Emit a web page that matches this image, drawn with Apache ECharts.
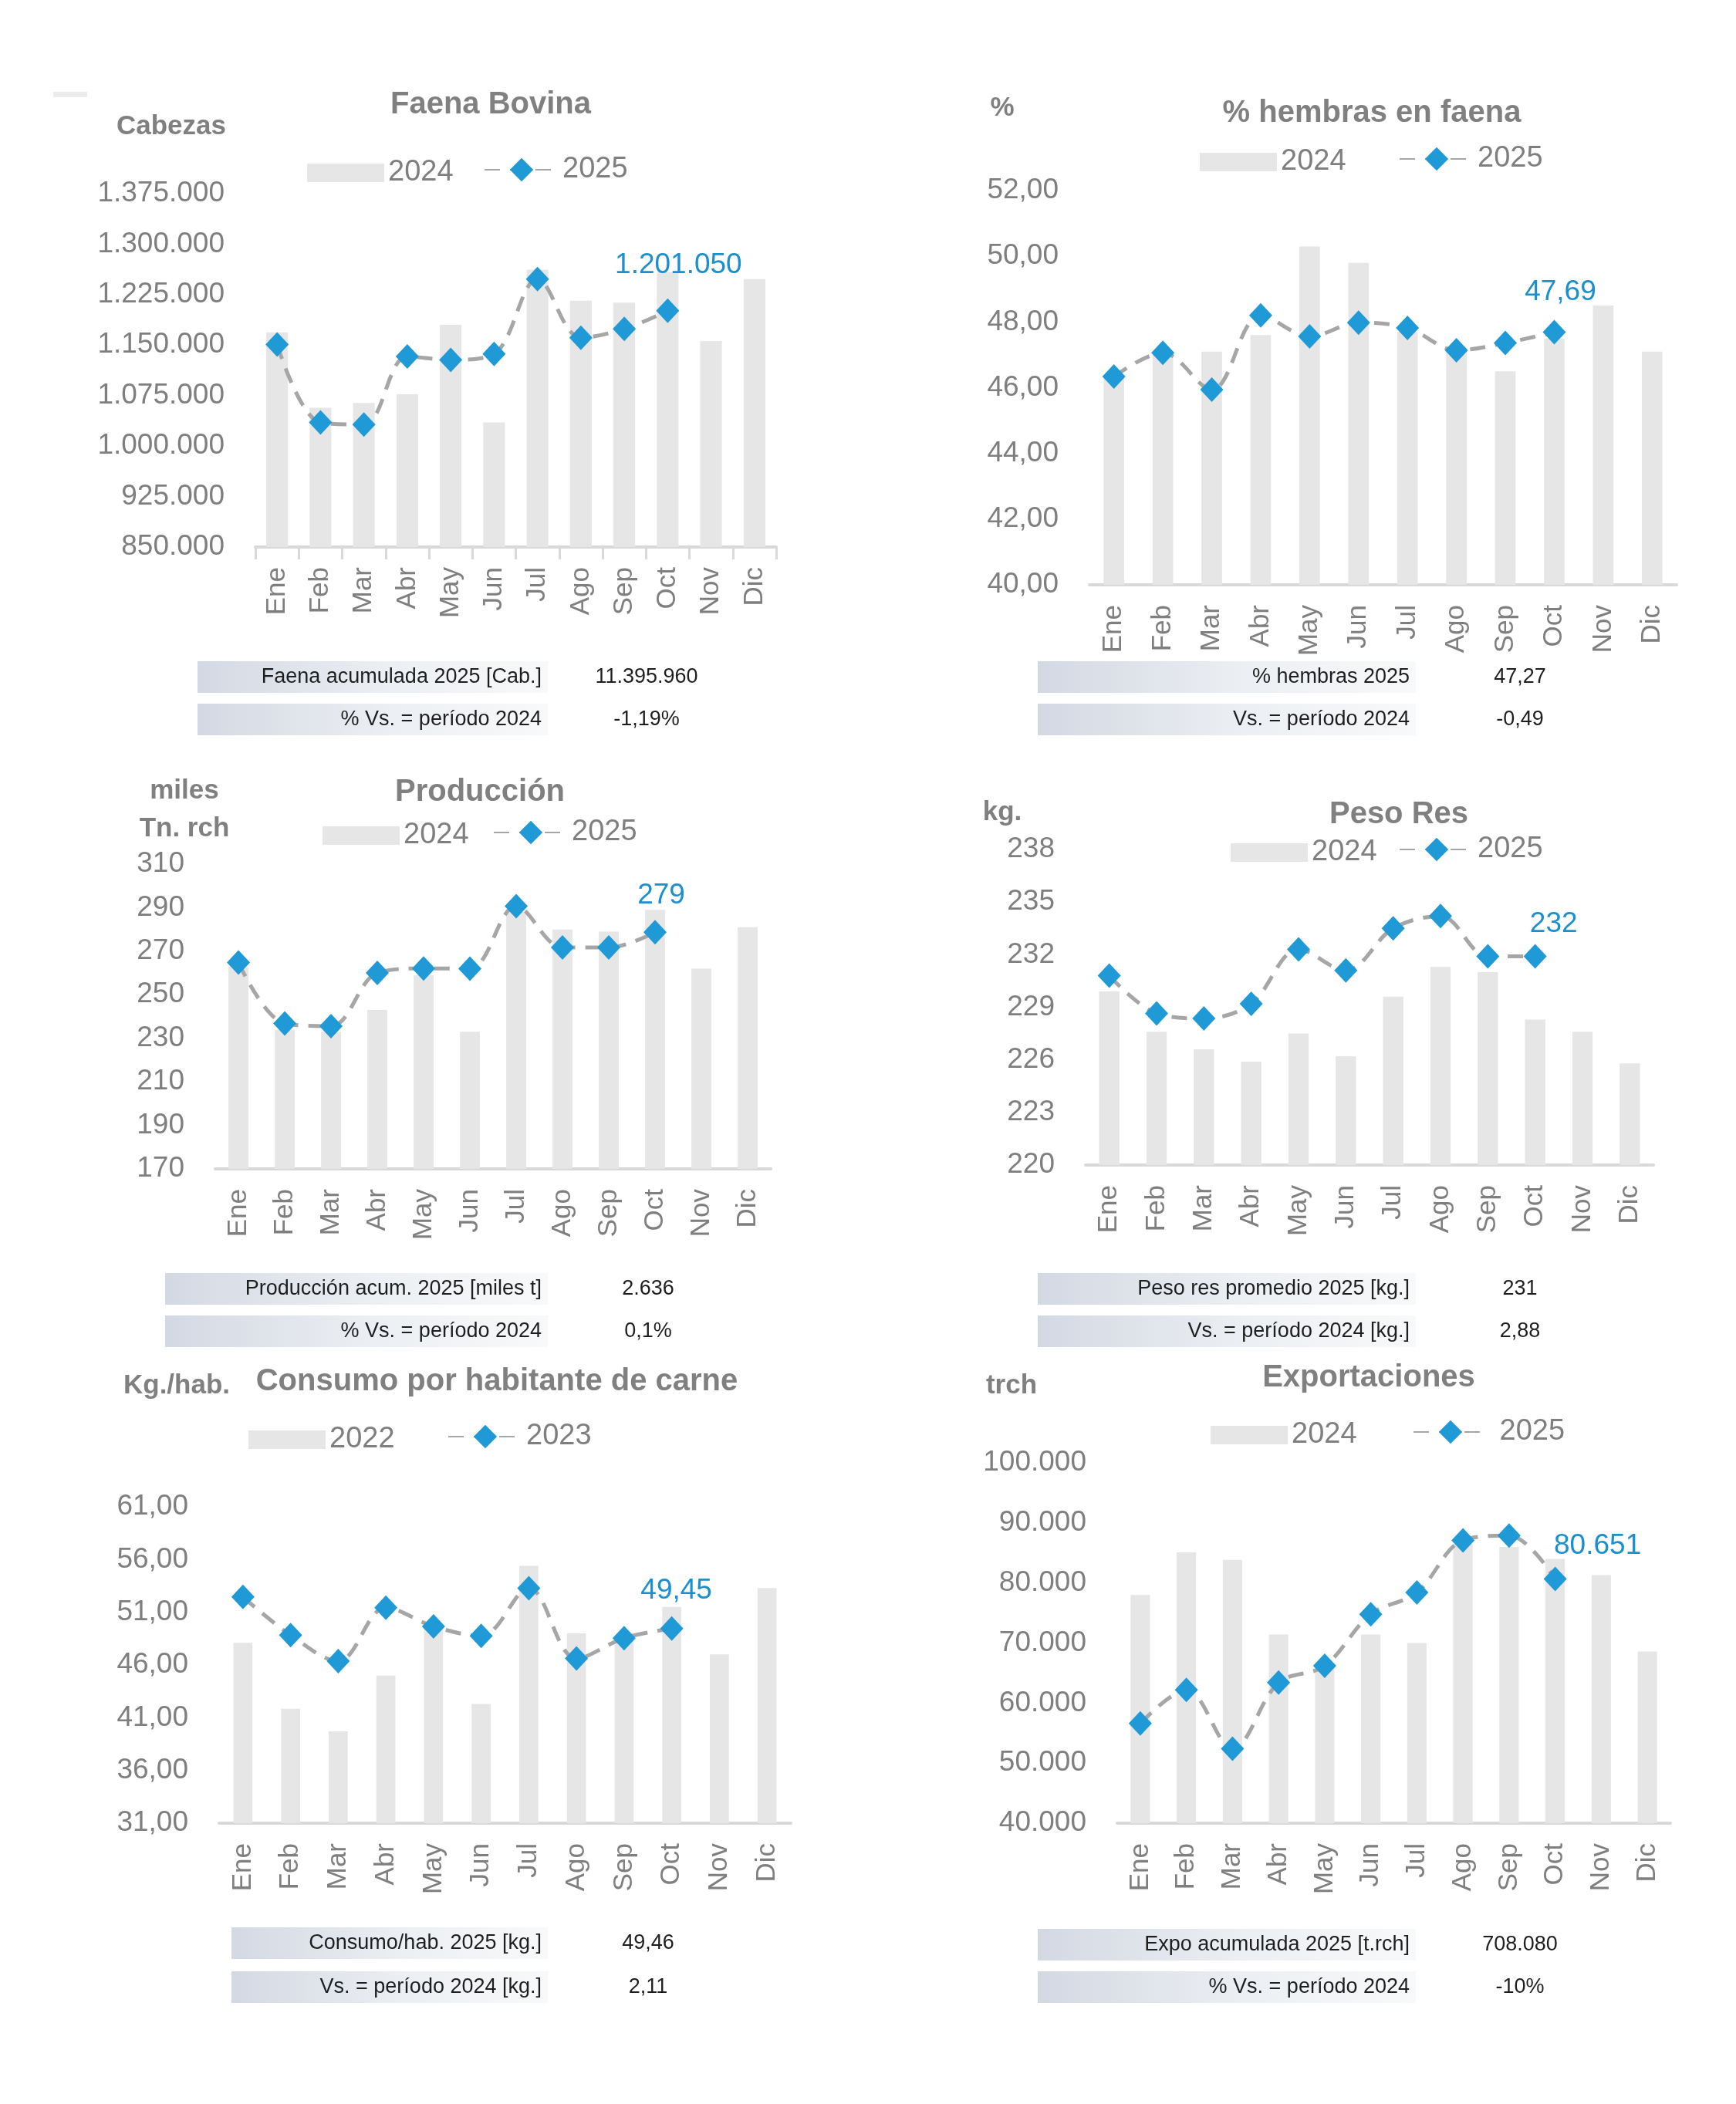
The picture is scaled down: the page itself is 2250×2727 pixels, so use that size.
<!DOCTYPE html>
<html><head><meta charset="utf-8">
<script src="https://cdn.jsdelivr.net/npm/echarts@6/dist/echarts.min.js"></script>
<style>html,body{margin:0;padding:0;background:#fff}#c{width:2250px;height:2727px}</style>
</head><body><div id="c"></div>
<script>
// ---------- DATA ----------
const months = ['Ene','Feb','Mar','Abr','May','Jun','Jul','Ago','Sep','Oct','Nov','Dic'];

const faena2024 = [1169000, 1057000, 1064000, 1077000, 1180000, 1035000, 1262000, 1216000, 1213000, 1258000, 1156000, 1248000];
const faena2025 = [1151000, 1035000, 1032000, 1133000, 1128000, 1137000, 1248000, 1161000, 1174000, 1201050];
const faenaTicks = [850000, 925000, 1000000, 1075000, 1150000, 1225000, 1300000, 1375000];

const hembras2024 = [46.3, 47.0, 47.1, 47.6, 50.3, 49.8, 47.7, 47.1, 46.5, 47.5, 48.5, 47.1];
const hembras2025 = [46.34, 47.06, 45.94, 48.2, 47.56, 47.98, 47.82, 47.14, 47.36, 47.69];
const hembrasTicks = [40, 42, 44, 46, 48, 50, 52];

const prod2024 = [263, 234, 233, 243, 259, 233, 288, 280, 279, 289, 262, 281];
const prod2025 = [264.8, 236.8, 235.6, 260, 262.1, 262, 290.7, 271.7, 271.7, 278.7];
const prodTicks = [170, 190, 210, 230, 250, 270, 290, 310];

const peso2024 = [229.9, 227.6, 226.6, 225.9, 227.5, 226.2, 229.6, 231.3, 231.0, 228.3, 227.6, 225.8];
const peso2025 = [230.8, 228.65, 228.36, 229.2, 232.3, 231.1, 233.5, 234.2, 231.9, 231.9];
const pesoTicks = [220, 223, 226, 229, 232, 235, 238];

const consumo2022 = [48.1, 41.85, 39.7, 45.0, 49.7, 42.3, 55.4, 49.0, 48.5, 51.5, 47.0, 53.3];
const consumo2023 = [52.45, 48.84, 46.37, 51.43, 49.66, 48.76, 53.28, 46.62, 48.55, 49.45];
const consumoTicks = [31, 36, 41, 46, 51, 56, 61];

const expo2024 = [78000, 85100, 83850, 71400, 66500, 71400, 70000, 86500, 86000, 84000, 81300, 68600];
const expo2025 = [56600, 62200, 52400, 63400, 66200, 74800, 78400, 87100, 87900, 80651];
const expoTicks = [40000, 50000, 60000, 70000, 80000, 90000, 100000];

const tables = [
  [['Faena acumulada 2025 [Cab.]', '11.395.960'], ['% Vs. = período 2024', '-1,19%']],
  [['% hembras 2025', '47,27'], ['Vs. = período 2024', '-0,49']],
  [['Producción acum. 2025 [miles t]', '2.636'], ['% Vs. = período 2024', '0,1%']],
  [['Peso res promedio 2025 [kg.]', '231'], ['Vs. = período 2024 [kg.]', '2,88']],
  [['Consumo/hab. 2025 [kg.]', '49,46'], ['Vs. = período 2024 [kg.]', '2,11']],
  [['Expo acumulada 2025 [t.rch]', '708.080'], ['% Vs. = período 2024', '-10%']]
];

// ---------- FORMAT ----------
function fmtNum(v, dec) {
  const neg = v < 0; v = Math.abs(v);
  let s = v.toFixed(dec);
  let [ip, fp] = s.split('.');
  ip = ip.replace(/\B(?=(\d{3})+(?!\d))/g, '.');
  return (neg ? '-' : '') + ip + (fp ? ',' + fp : '');
}

// ---------- LAYOUT ----------
const X = x => Math.round(x * 1.007);
const Y = y => Math.round(y * 1.005 + 4);
function G(l, t, r, b) { return {left:X(l), top:Y(t), width:X(r) - X(l), height:Y(b) - Y(t)}; }

const GRAY = '#7f7f7f', BAR = '#e7e6e6', LINE = '#a6a6a6', BLUE = '#1f9ad6', LBL = '#1b8fd0';
const FONT = "'Liberation Sans', Arial, sans-serif";

const panels = [
  {grid:G(329,246,999,701), bars:faena2024, line:faena2025, ticks:faenaTicks, dec:0,
   names:['2024','2025'], ticksX:true, bw:'50%', lg:[395,623,215], lOff:[14,0], dist:24},
  {grid:G(1402,242,2158,750), bars:hembras2024, line:hembras2025, ticks:hembrasTicks, dec:2,
   names:['2024','2025'], ticksX:false, bw:'42%', lg:[1544,1800,201], lOff:[8,0], dist:17},
  {grid:G(277,1110,992,1503), bars:prod2024, line:prod2025, ticks:prodTicks, dec:0,
   names:['2024','2025'], ticksX:false, bw:'43%', lg:[415,635,1070], lOff:[8,0], dist:13},
  {grid:G(1397,1092,2128,1499), bars:peso2024, line:peso2025, ticks:pesoTicks, dec:0,
   names:['2024','2025'], ticksX:false, bw:'43%', lg:[1584,1800,1092], lOff:[24,0], dist:7},
  {grid:G(282,1939,1018,2347), bars:consumo2022, line:consumo2023, ticks:consumoTicks, dec:2,
   names:['2022','2023'], ticksX:false, bw:'40%', lg:[320,576,1849], lOff:[6,0], dist:15},
  {grid:G(1438,1883,2150,2347), bars:expo2024, line:expo2025, ticks:expoTicks, dec:0,
   names:['2024',' 2025'], ticksX:false, bw:'42%', lg:[1558,1818,1843], lOff:[55,8], dist:16}
];

const option = {
  backgroundColor: '#ffffff',
  animation: false,
  textStyle: {fontFamily: FONT},
  title: [
    ['Faena Bovina', 632, 131], ['% hembras en faena', 1766, 142], ['Producción', 618, 1018],
    ['Peso Res', 1800, 1047], ['Consumo por habitante de carne', 640, 1778], ['Exportaciones', 1762, 1773]
  ].map(t => ({text:t[0], left:X(t[1]), top:Y(t[2]), textAlign:'center', textVerticalAlign:'middle', padding:0,
     textStyle:{fontSize:40, fontWeight:'bold', color:'#808080', fontFamily:FONT}})),
  grid: [], xAxis: [], yAxis: [], series: [], legend: [], graphic: []
};

panels.forEach((p, i) => {
  option.grid.push(Object.assign({containLabel:false}, p.grid));
  option.xAxis.push({
    gridIndex:i, type:'category', data:months, boundaryGap:true,
    axisLine:{show:true, lineStyle:{color:'#d9d9d9', width:4}},
    axisTick:{show:p.ticksX, length:16, lineStyle:{color:'#d9d9d9', width:3}},
    axisLabel:{rotate:90, color:GRAY, fontSize:35, margin:26, fontFamily:FONT}
  });
  const tk = p.ticks;
  option.yAxis.push({
    gridIndex:i, type:'value', min:tk[0], max:tk[tk.length-1],
    axisLine:{show:false}, axisTick:{show:false}, splitLine:{show:false},
    axisLabel:{customValues:tk, color:GRAY, fontSize:37, margin:40, fontFamily:FONT,
      formatter: v => fmtNum(v, p.dec)}
  });
  option.series.push({
    name:p.names[0], type:'bar', xAxisIndex:i, yAxisIndex:i, data:p.bars, barWidth:p.bw,
    itemStyle:{color:BAR}, silent:true
  });
  const last = p.line.length - 1;
  option.series.push({
    name:p.names[1], type:'line', xAxisIndex:i, yAxisIndex:i, smooth:0.35,
    symbol:'diamond', symbolSize:[30,32], z:5,
    lineStyle:{color:LINE, width:5, type:[20,13]},
    itemStyle:{color:BLUE},
    data:p.line.map((v, k) => k === last ? {value:v, label:{show:true, position:'top', distance:p.dist, offset:p.lOff,
      color:LBL, fontSize:37, fontFamily:FONT, formatter: () => fmtNum(v, p.dec)}} : v)
  });
  // bar legend
  option.legend.push({
    left:X(p.lg[0]), top:Y(p.lg[2]) - 15, orient:'horizontal', itemWidth:100, itemHeight:24, padding:0, itemGap:8,
    data:[{name:p.names[0], icon:'rect'}],
    textStyle:{color:GRAY, fontSize:38, fontFamily:FONT}
  });
  // line legend
  option.legend.push({
    left:X(p.lg[1]), top:Y(p.lg[2]) - 19, orient:'horizontal', itemWidth:96, itemHeight:38, padding:0, itemGap:8,
    data:[{name:p.names[1]}],
    textStyle:{color:GRAY, fontSize:38, fontFamily:FONT}
  });
});

// units
[['Cabezas',220,159],['%',1290,135],['miles',237,1016],['Tn. rch',237,1065],['kg.',1290,1044],['Kg./hab.',227,1783],['trch',1302,1783]]
  .forEach(u => option.graphic.push({type:'text', x:X(u[1]), y:Y(u[2]), silent:true,
    style:{text:u[0], fill:'#808080', font:'bold 35px ' + FONT, textAlign:'center', textVerticalAlign:'middle'}}));

// small mark top-left
option.graphic.push({type:'rect', shape:{x:X(69), y:Y(114), width:44, height:7}, style:{fill:'#ececec'}, silent:true});

// tables
const tPos = [
  {x0:254, x1:705, y:[849,903], vx:832},
  {x0:1336, x1:1822, y:[849,903], vx:1956},
  {x0:213, x1:705, y:[1638,1693], vx:834},
  {x0:1336, x1:1822, y:[1638,1693], vx:1956},
  {x0:298, x1:705, y:[2482,2538], vx:834},
  {x0:1336, x1:1822, y:[2484,2538], vx:1956}
];
tables.forEach((rows, i) => {
  const t = tPos[i];
  rows.forEach((r, k) => {
    const y = Y(t.y[k]);
    option.graphic.push({type:'rect', silent:true, shape:{x:X(t.x0), y:y, width:X(t.x1) - X(t.x0), height:41},
      style:{fill:new echarts.graphic.LinearGradient(0,0,1,0,[{offset:0,color:'#d3d9e3'},{offset:0.55,color:'#eceff3'},{offset:1,color:'#f8f9fa'}])}});
    option.graphic.push({type:'text', silent:true, x:X(t.x1) - 8, y:y + 21,
      style:{text:r[0], fill:'#1e1e1e', font:'27px ' + FONT, textAlign:'right', textVerticalAlign:'middle'}});
    option.graphic.push({type:'text', silent:true, x:X(t.vx), y:y + 21,
      style:{text:r[1], fill:'#1e1e1e', font:'27px ' + FONT, textAlign:'center', textVerticalAlign:'middle'}});
  });
});

const chart = echarts.init(document.getElementById('c'), null, {renderer:'canvas', width:2250, height:2727});
chart.setOption(option);
</script>
</body></html>
